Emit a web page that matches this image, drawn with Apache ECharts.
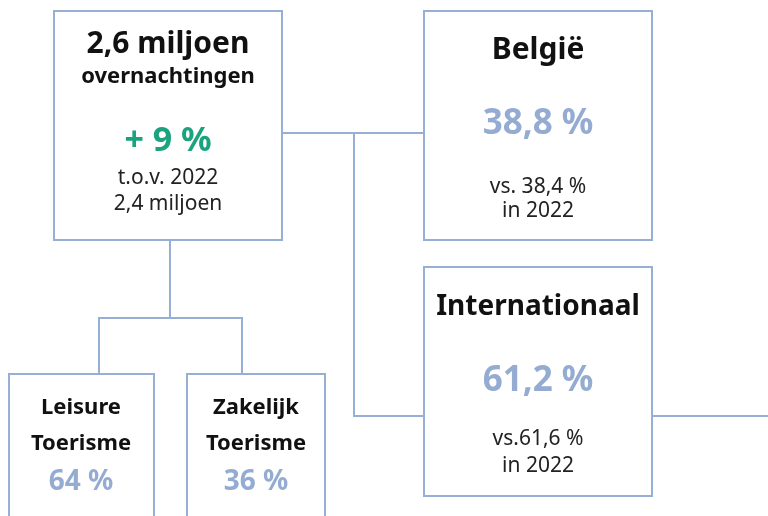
<!DOCTYPE html>
<html>
<head>
<meta charset="utf-8">
<script src="https://cdn.jsdelivr.net/npm/echarts@6/dist/echarts.min.js"></script>
<style>
  html, body { margin: 0; padding: 0; background: #fff; }
  #main { width: 768px; height: 516px; }
</style>
</head>
<body>
<div id="main"></div>
<script>
// figures
var totalTitle = ['2,6 miljoen', 'overnachtingen'];
var totalGrowth = '+ 9 %';
var totalNote = ['t.o.v. 2022', '2,4 miljoen'];
var originNames = ['België', 'Internationaal'];
var originShares = ['38,8 %', '61,2 %'];
var originNotes = [['vs. 38,4 %', 'in 2022'], ['vs.61,6 %', 'in 2022']];
var motiveNames = [['Leisure', 'Toerisme'], ['Zakelijk', 'Toerisme']];
var motiveShares = ['64 %', '36 %'];

// layout, in the pixel space of the hidden axes
var boxes = [[54, 11, 282, 240], [424, 11, 652, 240], [424, 267, 652, 496], [9, 374, 154, 530], [187, 374, 325, 530]];
var connectors = [
  [[282, 133], [424, 133]],
  [[354, 133], [354, 416], [424, 416]],
  [[652, 416], [768, 416]],
  [[170, 240], [170, 318]],
  [[99, 374], [99, 318], [242, 318], [242, 374]]
];
var originX = 538;
var originY = [[50, 124, 187, 211], [307, 381, 439, 466]];
var motiveX = [81, 256];
var motiveY = [408, 444, 482];

var lineColor = '#98afd5';
var styles = {
  big:    { fontSize: 30, fontWeight: 'bold', fill: '#111' },
  title:  { fontSize: 28, fontWeight: 'bold', fill: '#111' },
  sub:    { fontSize: 22, fontWeight: 'bold', fill: '#111' },
  growth: { fontSize: 34, fontWeight: 'bold', fill: '#1ba37f' },
  share:  { fontSize: 35, fontWeight: 'bold', fill: '#94abd2' },
  small:  { fontSize: 28, fontWeight: 'bold', fill: '#94abd2' },
  note:   { fontSize: 21, fontWeight: 'normal', fill: '#222' },
  motive: { fontSize: 22, fontWeight: 'bold', fill: '#111' }
};

var labels = [];
function addLabel(x, y, text, style) { labels.push([x, y, text, style]); }

addLabel(168, 44, totalTitle[0], 'big');
addLabel(168, 77, totalTitle[1], 'sub');
addLabel(168, 141, totalGrowth, 'growth');
addLabel(168, 178, totalNote[0], 'note');
addLabel(168, 204, totalNote[1], 'note');
originNames.forEach(function (name, i) {
  addLabel(originX, originY[i][0], name, i === 0 ? 'big' : 'title');
  addLabel(originX, originY[i][1], originShares[i], 'share');
  addLabel(originX, originY[i][2], originNotes[i][0], 'note');
  addLabel(originX, originY[i][3], originNotes[i][1], 'note');
});
motiveNames.forEach(function (name, i) {
  addLabel(motiveX[i], motiveY[0], name[0], 'motive');
  addLabel(motiveX[i], motiveY[1], name[1], 'motive');
  addLabel(motiveX[i], motiveY[2], motiveShares[i], 'small');
});

var chart = echarts.init(document.getElementById('main'));
var option = {
  animation: false,
  grid: { left: 0, right: 0, top: 0, bottom: 0 },
  xAxis: { type: 'value', min: 0, max: 768, show: false },
  yAxis: { type: 'value', min: 0, max: 516, inverse: true, show: false },
  series: [
    {
      type: 'custom',
      z: 1,
      clip: false,
      data: connectors.map(function (c) { return c[0]; }),
      renderItem: function (params, api) {
        var pts = connectors[params.dataIndex].map(function (p) { return api.coord(p); });
        return {
          type: 'polyline',
          shape: { points: pts },
          style: { stroke: lineColor, lineWidth: 2, fill: null }
        };
      }
    },
    {
      type: 'custom',
      z: 2,
      clip: false,
      data: boxes,
      renderItem: function (params, api) {
        var p0 = api.coord([api.value(0), api.value(1)]);
        var p1 = api.coord([api.value(2), api.value(3)]);
        return {
          type: 'rect',
          shape: { x: p0[0], y: p0[1], width: p1[0] - p0[0], height: p1[1] - p0[1] },
          style: { fill: '#fff', stroke: lineColor, lineWidth: 2 }
        };
      }
    },
    {
      type: 'custom',
      z: 3,
      clip: false,
      data: labels.map(function (l) { return [l[0], l[1]]; }),
      renderItem: function (params, api) {
        var l = labels[params.dataIndex];
        var s = styles[l[3]];
        var p = api.coord([l[0], l[1]]);
        return {
          type: 'text',
          x: p[0],
          y: p[1],
          style: {
            text: l[2],
            align: 'center',
            verticalAlign: 'middle',
            fontFamily: 'Noto Sans',
            fontSize: s.fontSize,
            fontWeight: s.fontWeight,
            fill: s.fill
          }
        };
      }
    }
  ]
};
chart.setOption(option);
</script>
</body>
</html>
